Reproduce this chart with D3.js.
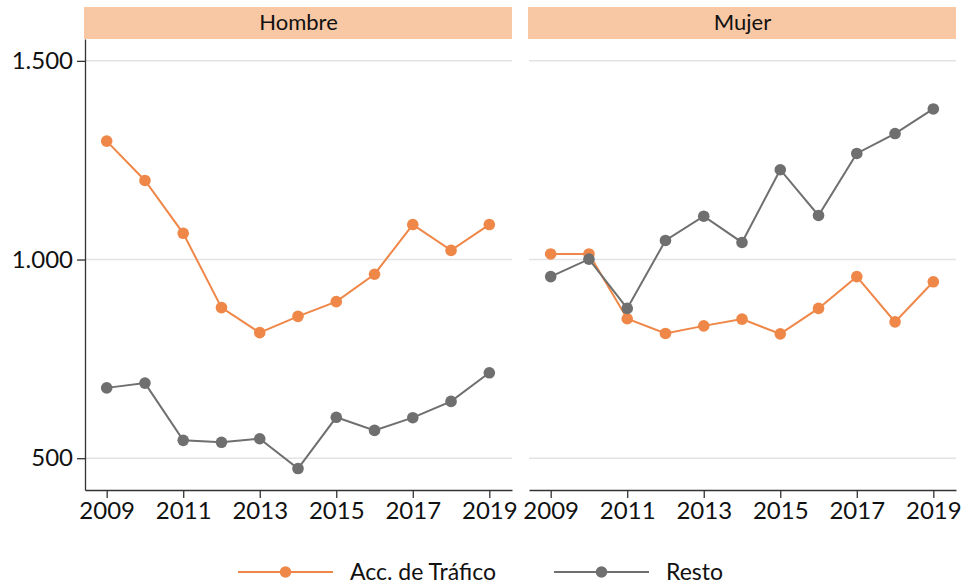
<!DOCTYPE html>
<html>
<head>
<meta charset="utf-8">
<script src="https://cdn.jsdelivr.net/npm/d3@7"></script>
<style>
  body { margin: 0; background: #fff; }
  text { font-family: Lato, "Open Sans", sans-serif; fill: #111; }
</style>
</head>
<body>
<div id="chart"></div>
<script>
// data
var years = [2009, 2010, 2011, 2012, 2013, 2014, 2015, 2016, 2017, 2018, 2019];
var panels = ["Hombre", "Mujer"];
var seriesNames = ["Acc. de Tráfico", "Resto"];
var hombreTrafico = [1298, 1199, 1066, 879, 816, 857, 894, 963, 1088, 1023, 1088];
var hombreResto = [677, 689, 545, 540, 549, 474, 603, 570, 602, 643, 715];
var mujerTrafico = [1014, 1014, 851, 814, 833, 850, 813, 877, 957, 843, 944];
var mujerResto = [957, 1001, 877, 1048, 1109, 1043, 1226, 1111, 1267, 1317, 1379];
var yTicks = [500, 1000, 1500];
var xTicks = [2009, 2011, 2013, 2015, 2017, 2019];
var colors = ["#ef8748", "#6f6f6f"];

(function() {
    "use strict";
    var panelData = {
        "Hombre": [hombreTrafico, hombreResto],
        "Mujer": [mujerTrafico, mujerResto]
    };

    var W = 969, H = 585;
    var svg = d3.select("#chart").append("svg")
        .attr("width", W).attr("height", H);

    var plotTop = 39, plotBottom = 490;
    var panelLeft = [85, 529], panelW = 427;

    var y = d3.scaleLinear().domain([420, 1555]).range([plotBottom, plotTop]);
    var fmt = function(d) { return d3.format(",")(d).replace(/,/g, "."); };

    panels.forEach(function(name, p) {
        var x = d3.scaleLinear().domain([2008.433, 2019.593])
            .range([panelLeft[p], panelLeft[p] + panelW]);
        var g = svg.append("g");

        // strip
        g.append("rect")
            .attr("x", panelLeft[p] - 1).attr("y", 7)
            .attr("width", panelW + 1).attr("height", 32)
            .attr("fill", "#f8c8a4");
        g.append("text")
            .attr("x", panelLeft[p] + panelW / 2).attr("y", 30)
            .attr("text-anchor", "middle")
            .style("font-size", "22px")
            .text(name);

        // gridlines
        g.selectAll(".grid").data(yTicks).enter().append("line")
            .attr("x1", panelLeft[p]).attr("x2", panelLeft[p] + panelW)
            .attr("y1", function(d) { return y(d); })
            .attr("y2", function(d) { return y(d); })
            .attr("stroke", "#e3e3e3").attr("stroke-width", 1.5);

        // x axis
        var xa = g.append("g")
            .attr("transform", "translate(0," + plotBottom + ")")
            .call(d3.axisBottom(x).tickValues(xTicks).tickFormat(d3.format("d"))
                .tickSize(8).tickPadding(4).tickSizeOuter(0));
        xa.select(".domain").attr("stroke", "#333").attr("stroke-width", 1.3);
        xa.selectAll(".tick line").attr("stroke", "#333").attr("stroke-width", 1.3);
        xa.selectAll("text").style("font-size", "24px").attr("fill", "#111")
            .style("font-family", "Lato, sans-serif");

        // y axis only on first panel
        if (p === 0) {
            var ya = g.append("g")
                .attr("transform", "translate(" + panelLeft[p] + ",0)")
                .call(d3.axisLeft(y).tickValues(yTicks).tickFormat(fmt)
                    .tickSize(8).tickPadding(4).tickSizeOuter(0));
            ya.select(".domain").attr("stroke", "#333").attr("stroke-width", 1.3);
            ya.selectAll(".tick line").attr("stroke", "#333").attr("stroke-width", 1.3);
            ya.selectAll("text").style("font-size", "24px").attr("fill", "#111")
                .style("font-family", "Lato, sans-serif");
        }

        var line = d3.line()
            .x(function(d, i) { return x(years[i]); })
            .y(function(d) { return y(d); });

        [0, 1].forEach(function(s) {
            var vals = panelData[name][s];
            g.append("path").datum(vals)
                .attr("d", line)
                .attr("fill", "none")
                .attr("stroke", colors[s]).attr("stroke-width", 2);
            g.selectAll(".pt" + s).data(vals).enter().append("circle")
                .attr("class", "pt" + s)
                .attr("cx", function(d, i) { return x(years[i]); })
                .attr("cy", function(d) { return y(d); })
                .attr("r", 5.8)
                .attr("fill", colors[s]);
        });
    });

    // legend
    var legX = [238, 554];
    seriesNames.forEach(function(s, i) {
        var lg = svg.append("g").attr("transform", "translate(" + legX[i] + ",572)");
        lg.append("line").attr("x1", 0).attr("x2", 95)
            .attr("stroke", colors[i]).attr("stroke-width", 2);
        lg.append("circle").attr("cx", 47.5).attr("r", 5.8).attr("fill", colors[i]);
        lg.append("text").attr("x", 112).attr("y", 8)
            .style("font-size", "23px").text(s);
    });
}());
</script>
</body>
</html>
